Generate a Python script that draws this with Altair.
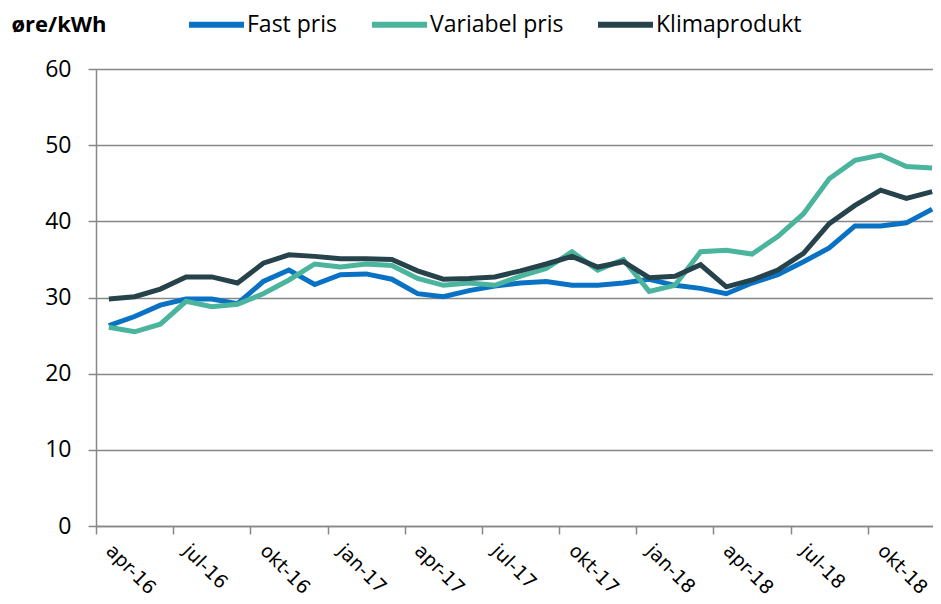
import altair as alt
import pandas as pd

months = ["apr-16", "mai-16", "jun-16", "jul-16", "aug-16", "sep-16", "okt-16", "nov-16", "des-16",
          "jan-17", "feb-17", "mar-17", "apr-17", "mai-17", "jun-17", "jul-17", "aug-17", "sep-17",
          "okt-17", "nov-17", "des-17", "jan-18", "feb-18", "mar-18", "apr-18", "mai-18", "jun-18",
          "jul-18", "aug-18", "sep-18", "okt-18", "nov-18", "des-18"]
fast = [26.3, 27.5, 29.0, 29.8, 29.8, 29.2, 32.1, 33.6, 31.7, 33.0, 33.1, 32.4, 30.5, 30.1, 30.9, 31.5,
        31.9, 32.1, 31.6, 31.6, 31.9, 32.4, 31.6, 31.2, 30.5, 31.9, 33.0, 34.7, 36.5, 39.4, 39.4, 39.8, 41.6]
variabel = [26.1, 25.5, 26.5, 29.5, 28.8, 29.1, 30.5, 32.3, 34.4, 34.0, 34.4, 34.2, 32.5, 31.6, 31.9, 31.6,
            32.8, 33.8, 36.0, 33.6, 35.0, 30.8, 31.6, 36.0, 36.2, 35.7, 38.0, 41.0, 45.6, 48.0, 48.7, 47.2, 47.0]
klima = [29.8, 30.1, 31.1, 32.7, 32.7, 31.9, 34.5, 35.6, 35.4, 35.1, 35.1, 35.0, 33.5, 32.4, 32.5, 32.7,
         33.5, 34.4, 35.4, 34.0, 34.7, 32.6, 32.8, 34.3, 31.4, 32.3, 33.6, 35.8, 39.7, 42.1, 44.1, 43.0, 43.9]
series_names = ["Fast pris", "Variabel pris", "Klimaprodukt"]
series_colors = ["#0A72C4", "#4BB49D", "#26424B"]
tick_labels = months[::3]

rows = []
for name, vals in zip(series_names, [fast, variabel, klima]):
    for i, v in enumerate(vals):
        rows.append({"idx": i, "month": months[i], "serie": name,
                     "order": series_names.index(name), "value": v})
df = pd.DataFrame(rows)

FONT = "Open Sans"
XFONT = "DejaVu Sans"
GRID = "#878787"
label_js = "[" + ",".join("'%s'" % t for t in tick_labels) + "]"

chart = alt.Chart(df).mark_line(strokeWidth=5, strokeJoin="miter", strokeCap="butt").encode(
    x=alt.X("idx:Q",
            scale=alt.Scale(domain=[-0.5, len(months) - 0.5], nice=False, zero=False, range=[0, 849]),
            axis=alt.Axis(values=[-0.5 + 3 * k for k in range(len(tick_labels))],
                          labelExpr=label_js + "[round((datum.value + 0.5) / 3)]",
                          title=None, grid=False, labelAngle=45, labelAlign="left",
                          labelBaseline="top", labelOffset=19, labelPadding=7,
                          tickSize=8, tickColor=GRID, tickWidth=1.5,
                          domainColor=GRID, domainWidth=1.5,
                          labelFont=XFONT, labelFontSize=19, labelColor="#000000",
                          labelOverlap=False, labelFlush=False)),
    y=alt.Y("value:Q",
            scale=alt.Scale(domain=[0, 60], nice=False),
            axis=alt.Axis(values=[0, 10, 20, 30, 40, 50, 60], title="øre/kWh",
                          titleAngle=0, titleX=-85, titleY=-45, titleAlign="left",
                          titleBaseline="middle", titleFont=FONT, titleFontSize=22,
                          titleFontWeight="bold", titleColor="#000000",
                          grid=True, gridColor=GRID, gridWidth=1.5,
                          tickSize=8, tickColor=GRID, tickWidth=1.5,
                          domainColor=GRID, domainWidth=1.5, labelPadding=17,
                          labelFont=FONT, labelFontSize=23, labelColor="#000000")),
    color=alt.Color("serie:N",
                    scale=alt.Scale(domain=series_names, range=series_colors),
                    legend=alt.Legend(title=None, orient="none", legendX=90, legendY=-75,
                                      direction="horizontal", symbolType="stroke",
                                      symbolSize=3025, symbolStrokeWidth=6,
                                      labelFont=FONT, labelFontSize=23, labelColor="#000000",
                                      columnPadding=22, labelOffset=0, symbolOffset=0)),
    order=alt.Order("order:Q"),
    detail="serie:N",
).properties(
    width=837, height=457,
    padding={"left": 88, "top": 61, "right": 0, "bottom": 74},
    autosize=alt.AutoSizeParams(type="none"),
).configure_view(stroke=None).configure(background="white")

chart.save("out.html", embed_options={"renderer": "svg", "actions": False})
